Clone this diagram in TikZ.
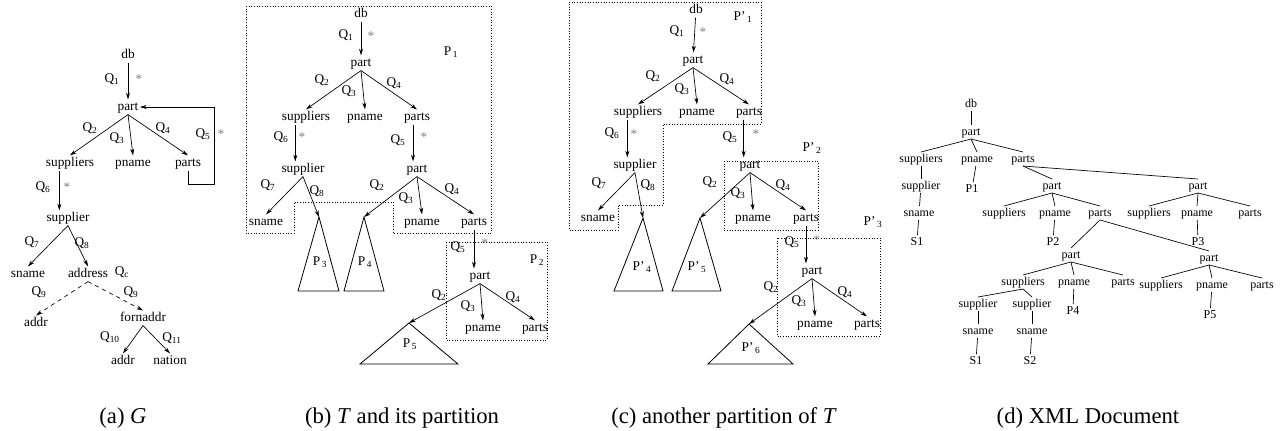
\documentclass[tikz,border=0pt]{standalone}
\usepackage{fontspec}
\setmainfont{Liberation Serif}
\usetikzlibrary{arrows.meta}

\newcommand{\qsub}[1]{Q\textsubscript{#1}}
\newcommand{\psub}[1]{P\textsubscript{\,#1}}
\newcommand{\ppsub}[1]{P'\textsubscript{\,#1}}

\begin{document}
\begin{tikzpicture}[
  x=0.75pt, y=-0.75pt,
  lbl/.style={inner sep=1pt, text height=7pt, text depth=2pt, font=\fontsize{10}{12}\selectfont},
  dlbl/.style={inner sep=1pt, text height=6.3pt, text depth=1.8pt, font=\fontsize{9}{11}\selectfont},
  qlbl/.style={inner sep=0pt, font=\fontsize{10}{12}\selectfont},
  star/.style={inner sep=0pt, text=gray, font=\fontsize{10}{12}\selectfont},
  arr/.style={-{Stealth[length=5pt,width=3pt]}, line width=0.5pt},
  darr/.style={arr, dashed},
  tree/.style={line width=0.5pt},
  partbox/.style={line width=0.5pt, dash pattern=on 0.5pt off 1.5pt},
  tri/.style={line width=0.6pt},
  captext/.style={inner sep=0pt, font=\fontsize{17}{20}\selectfont}
]
\useasboundingbox (0,0) rectangle (1281,430);

% (a) the schema graph G
\node[lbl] (adb) at (128,55) {db};
\node[lbl] (apart) at (128,107) {part};
\node[lbl] (asupps) at (70,163) {suppliers};
\node[lbl] (apname) at (133,163) {pname};
\node[lbl] (aparts) at (188,163) {parts};
\node[lbl] (asupp) at (68,218) {supplier};
\node[lbl] (asname) at (28,274) {sname};
\node[lbl] (aaddress) at (88,274) {address};
\node[lbl] (aaddr) at (36,323) {addr};
\node[lbl] (afor) at (143,318) {fornaddr};
\node[lbl] (aaddr2) at (123,361) {addr};
\node[lbl] (anation) at (170,361) {nation};
\coordinate (aloop) at (214,184);

\node[qlbl] (aq1) at (112,79) {\qsub{1}};
\node[star] (as1) at (139,79) {*};
\node[qlbl] (aq2) at (90,128) {\qsub{2}};
\node[qlbl] (aq3) at (117,138) {\qsub{3}};
\node[qlbl] (aq4) at (163,128) {\qsub{4}};
\node[qlbl] (aq5) at (203,134) {\qsub{5}};
\node[star] (as5) at (221,134) {*};
\node[qlbl] (aq6) at (43,187) {\qsub{6}};
\node[star] (as6) at (67,187) {*};
\node[qlbl] (aq7) at (32,242) {\qsub{7}};
\node[qlbl] (aq8) at (82,243) {\qsub{8}};
\node[qlbl] (aqc) at (122,272) {\qsub{c}};
\node[qlbl] (aq9) at (39,292) {\qsub{9}};
\node[qlbl] (aq9b) at (131,292) {\qsub{9}};
\node[qlbl] (aq10) at (110,337) {\qsub{10}};
\node[qlbl] (aq11) at (172,338) {\qsub{11}};

\draw[arr] (adb) -- (apart);
\draw[arr] (apart.south) -- (asupps.north);
\draw[arr] (apart.south) -- (apname.north);
\draw[arr] (apart.south) -- (aparts.north);
\draw[arr] (aparts.south) |- (aloop) |- (apart.east);
\draw[arr] ([xshift=-8pt]asupps.south) -- ([xshift=-8pt]asupps.south |- asupp.north);
\draw[arr] (asupp.south) -- (asname.north);
\draw[arr] (asupp.south) -- (aaddress.north);
\draw[darr] (aaddress.south) -- (aaddr.north);
\draw[darr] (aaddress.south) -- (afor.north);
\draw[arr] (afor.south) -- (aaddr2.north);
\draw[arr] (afor.south) -- (anation.north);

% (b) T and its partition
\node[lbl] (bdb) at (361,14) {db};
\node[lbl] (bpart) at (361,63) {part};
\node[lbl] (bsupps) at (306,117) {suppliers};
\node[lbl] (bpname) at (365,117) {pname};
\node[lbl] (bparts) at (417,117) {parts};
\node[lbl] (bsupp) at (303,169) {supplier};
\node[lbl] (bpart2) at (417,169) {part};
\node[lbl] (bsname) at (266,222) {sname};
\node[lbl] (bpname2) at (422,222) {pname};
\node[lbl] (bparts2) at (474,222) {parts};
\node[lbl] (bpart3) at (480,276) {part};
\node[lbl] (bpname3) at (483,328) {pname};
\node[lbl] (bparts3) at (535,328) {parts};

\coordinate (bt3) at (319,217);
\coordinate (bt4) at (364,217);
\coordinate (bt5) at (409,323);
\draw[tri] (bt3) -- (298,291) -- (339,291) -- cycle;
\draw[tri] (bt4) -- (344,291) -- (384,291) -- cycle;
\draw[tri] (bt5) -- (360,364) -- (458,364) -- cycle;
\node[qlbl] (bp3) at (320,262) {\psub{3}};
\node[qlbl] (bp4) at (365,262) {\psub{4}};
\node[qlbl] (bp5) at (410,344) {\psub{5}};

\draw[partbox] (246,6) -- (491,6) -- (491,233) -- (393,233) -- (393,202)
  -- (294,202) -- (294,233) -- (246,233) -- cycle;
\draw[partbox] (446,242) rectangle (547,340);
\node[qlbl] (bp1) at (451,52) {\psub{1}};
\node[qlbl] (bp2) at (537,260) {\psub{2}};

\node[qlbl] (bq1) at (346,35) {\qsub{1}};
\node[star] (bs1) at (371,36) {*};
\node[qlbl] (bq2) at (322,80) {\qsub{2}};
\node[qlbl] (bq3) at (349,91) {\qsub{3}};
\node[qlbl] (bq4) at (394,83) {\qsub{4}};
\node[qlbl] (bq6) at (281,137) {\qsub{6}};
\node[star] (bs6) at (302,137) {*};
\node[qlbl] (bq5) at (398,140) {\qsub{5}};
\node[star] (bs5) at (424,137) {*};
\node[qlbl] (bq7) at (268,185) {\qsub{7}};
\node[qlbl] (bq8) at (317,191) {\qsub{8}};
\node[qlbl] (bq2b) at (377,185) {\qsub{2}};
\node[qlbl] (bq3b) at (406,198) {\qsub{3}};
\node[qlbl] (bq4b) at (452,189) {\qsub{4}};
\node[qlbl] (bq5b) at (458,247) {\qsub{5}};
\node[star] (bs5b) at (485,243) {*};
\node[qlbl] (bq2c) at (439,295) {\qsub{2}};
\node[qlbl] (bq3c) at (468,306) {\qsub{3}};
\node[qlbl] (bq4c) at (513,297) {\qsub{4}};

\draw[arr] (bdb) -- (bpart);
\draw[arr] (bpart.south) -- (bsupps.north);
\draw[arr] (bpart.south) -- (bpname.north);
\draw[arr] (bpart.south) -- (bparts.north);
\draw[arr] ([xshift=-8pt]bsupps.south) -- ([xshift=-8pt]bsupps.south |- bsupp.north);
\draw[arr] ([xshift=-3pt]bparts.south) -- ([xshift=-3pt]bparts.south |- bpart2.north);
\draw[arr] (bsupp.south) -- (bsname.north);
\draw[arr] (bsupp.south) -- (bt3);
\draw[arr] (bpart2.south) -- (bt4);
\draw[arr] (bpart2.south) -- (bpname2.north);
\draw[arr] (bpart2.south) -- (bparts2.north);
\draw[arr] (bparts2.south) -- (bparts2.south |- bpart3.north);
\draw[arr] (bpart3.south) -- (bt5);
\draw[arr] (bpart3.south) -- (bpname3.north);
\draw[arr] (bpart3.south) -- (bparts3.north);

% (c) another partition of T
\node[lbl] (cdb) at (696,10) {db};
\node[lbl] (cpart) at (693,60) {part};
\node[lbl] (csupps) at (638,112) {suppliers};
\node[lbl] (cpname) at (697,112) {pname};
\node[lbl] (cparts) at (749,112) {parts};
\node[lbl] (csupp) at (635,165) {supplier};
\node[lbl] (cpart2) at (750,165) {part};
\node[lbl] (csname) at (598,218) {sname};
\node[lbl] (cpname2) at (753,218) {pname};
\node[lbl] (cparts2) at (806,218) {parts};
\node[lbl] (cpart3) at (812,271) {part};
\node[lbl] (cpname3) at (815,324) {pname};
\node[lbl] (cparts3) at (867,324) {parts};

\coordinate (ct4) at (643,218);
\coordinate (ct5) at (700,218);
\coordinate (ct6) at (749,324);
\draw[tri] (ct4) -- (614,291) -- (663,291) -- cycle;
\draw[tri] (ct5) -- (672,291) -- (721,291) -- cycle;
\draw[tri] (ct6) -- (708,364) -- (793,364) -- cycle;
\node[qlbl] (cp4) at (642,267) {\ppsub{4}};
\node[qlbl] (cp5) at (697,267) {\ppsub{5}};
\node[qlbl] (cp6) at (751,348) {\ppsub{6}};

\draw[partbox] (569,2) -- (761,2) -- (761,124) -- (663,124) -- (663,205)
  -- (618,205) -- (618,230) -- (569,230) -- cycle;
\draw[partbox] (724,161) rectangle (818,230);
\draw[partbox] (777,238) rectangle (880,336);
\node[qlbl] (cp1) at (743,17) {\ppsub{1}};
\node[qlbl] (cp2) at (812,148) {\ppsub{2}};
\node[qlbl] (cp3) at (873,222) {\ppsub{3}};

\node[qlbl] (cq1) at (677,31) {\qsub{1}};
\node[star] (cs1) at (703,32) {*};
\node[qlbl] (cq2) at (653,76) {\qsub{2}};
\node[qlbl] (cq3) at (682,89) {\qsub{3}};
\node[qlbl] (cq4) at (727,79) {\qsub{4}};
\node[qlbl] (cq6) at (612,133) {\qsub{6}};
\node[star] (cs6) at (634,134) {*};
\node[qlbl] (cq5) at (730,137) {\qsub{5}};
\node[star] (cs5) at (756,134) {*};
\node[qlbl] (cq7) at (599,183) {\qsub{7}};
\node[qlbl] (cq8) at (648,185) {\qsub{8}};
\node[qlbl] (cq2b) at (710,182) {\qsub{2}};
\node[qlbl] (cq3b) at (738,193) {\qsub{3}};
\node[qlbl] (cq4b) at (783,185) {\qsub{4}};
\node[qlbl] (cq5b) at (792,242) {\qsub{5}};
\node[star] (cs5b) at (817,240) {*};
\node[qlbl] (cq2c) at (771,287) {\qsub{2}};
\node[qlbl] (cq3c) at (799,301) {\qsub{3}};
\node[qlbl] (cq4c) at (845,292) {\qsub{4}};

\draw[arr] (cdb) -- (cpart);
\draw[arr] (cpart.south) -- (csupps.north);
\draw[arr] (cpart.south) -- (cpname.north);
\draw[arr] (cpart.south) -- (cparts.north);
\draw[arr] ([xshift=-8pt]csupps.south) -- ([xshift=-8pt]csupps.south |- csupp.north);
\draw[arr] ([xshift=-4pt]cparts.south) -- ([xshift=-4pt]cparts.south |- cpart2.north);
\draw[arr] (csupp.south) -- (csname.north);
\draw[arr] (csupp.south) -- (ct4);
\draw[arr] (cpart2.south) -- (ct5);
\draw[arr] (cpart2.south) -- (cpname2.north);
\draw[arr] (cpart2.south) -- (cparts2.north);
\draw[arr] (cparts2.south) -- (cparts2.south |- cpart3.north);
\draw[arr] (cpart3.south) -- (ct6);
\draw[arr] (cpart3.south) -- (cpname3.north);
\draw[arr] (cpart3.south) -- (cparts3.north);

% (d) XML document
\node[dlbl] (ddb) at (971,104) {db};
\node[dlbl] (dpart) at (971,132) {part};
\node[dlbl] (dsupps) at (921,159) {suppliers};
\node[dlbl] (dpname) at (977,159) {pname};
\node[dlbl] (dparts) at (1023,159) {parts};
\node[dlbl] (dsupp) at (921,186) {supplier};
\node[dlbl] (dP1) at (972,189) {P1};
\node[dlbl] (dpartL) at (1052,186) {part};
\node[dlbl] (dpartR) at (1198,186) {part};
\node[dlbl] (dsname) at (919,213) {sname};
\node[dlbl] (dsupps2) at (1004,213) {suppliers};
\node[dlbl] (dpname2) at (1055,213) {pname};
\node[dlbl] (dparts2) at (1100,213) {parts};
\node[dlbl] (dsupps3) at (1149,213) {suppliers};
\node[dlbl] (dpname3) at (1197,213) {pname};
\node[dlbl] (dparts3) at (1250,213) {parts};
\node[dlbl] (dS1) at (917,242) {S1};
\node[dlbl] (dP2) at (1053,242) {P2};
\node[dlbl] (dP3) at (1198,242) {P3};
\node[dlbl] (dpartLL) at (1071,255) {part};
\node[dlbl] (dpartLR) at (1209,258) {part};
\node[dlbl] (dsupps4) at (1023,282) {suppliers};
\node[dlbl] (dpname4) at (1074,282) {pname};
\node[dlbl] (dparts4) at (1123,282) {parts};
\node[dlbl] (dsupps5) at (1161,285) {suppliers};
\node[dlbl] (dpname5) at (1212,285) {pname};
\node[dlbl] (dparts5) at (1262,285) {parts};
\node[dlbl] (dsuppA) at (978,304) {supplier};
\node[dlbl] (dsuppB) at (1032,304) {supplier};
\node[dlbl] (dP4) at (1073,311) {P4};
\node[dlbl] (dP5) at (1210,315) {P5};
\node[dlbl] (dsnameA) at (978,331) {sname};
\node[dlbl] (dsnameB) at (1032,331) {sname};
\node[dlbl] (dS1b) at (976,361) {S1};
\node[dlbl] (dS2) at (1030,361) {S2};

\draw[tree] (ddb) -- (dpart);
\foreach \c in {dsupps, dpname, dparts}
  \draw[tree] (dpart.south) -- (\c.north);
\draw[tree] (dsupps) -- (dsupp);
\draw[tree] (dsupp) -- (dsname);
\draw[tree] (dsname) -- (dS1);
\draw[tree] (dpname) -- (dP1);
\draw[tree] (dparts.south) -- (dpartL.north);
\draw[tree] (dparts.south) -- (dpartR.north);
\foreach \c in {dsupps2, dpname2, dparts2}
  \draw[tree] (dpartL.south) -- (\c.north);
\foreach \c in {dsupps3, dpname3, dparts3}
  \draw[tree] (dpartR.south) -- (\c.north);
\draw[tree] (dpname2) -- (dP2);
\draw[tree] (dpname3) -- (dP3);
\draw[tree] (dparts2.south) -- (dpartLL.north);
\draw[tree] (dparts2.south) -- (dpartLR.north);
\foreach \c in {dsupps4, dpname4, dparts4}
  \draw[tree] (dpartLL.south) -- (\c.north);
\foreach \c in {dsupps5, dpname5, dparts5}
  \draw[tree] (dpartLR.south) -- (\c.north);
\draw[tree] (dsupps4.south) -- (dsuppA.north);
\draw[tree] (dsupps4.south) -- (dsuppB.north);
\draw[tree] (dsuppA) -- (dsnameA);
\draw[tree] (dsnameA) -- (dS1b);
\draw[tree] (dsuppB) -- (dsnameB);
\draw[tree] (dsnameB) -- (dS2);
\draw[tree] (dpname4) -- (dP4);
\draw[tree] (dpname5) -- (dP5);

% captions
\node[captext] (capa) at (123,418) {(a) \textit{G}};
\node[captext] (capb) at (402,418) {(b) \textit{T} and its partition};
\node[captext] (capc) at (724,418) {(c) another partition of \textit{T}};
\node[captext] (capd) at (1088,418) {(d) XML Document};
\end{tikzpicture}
\end{document}
